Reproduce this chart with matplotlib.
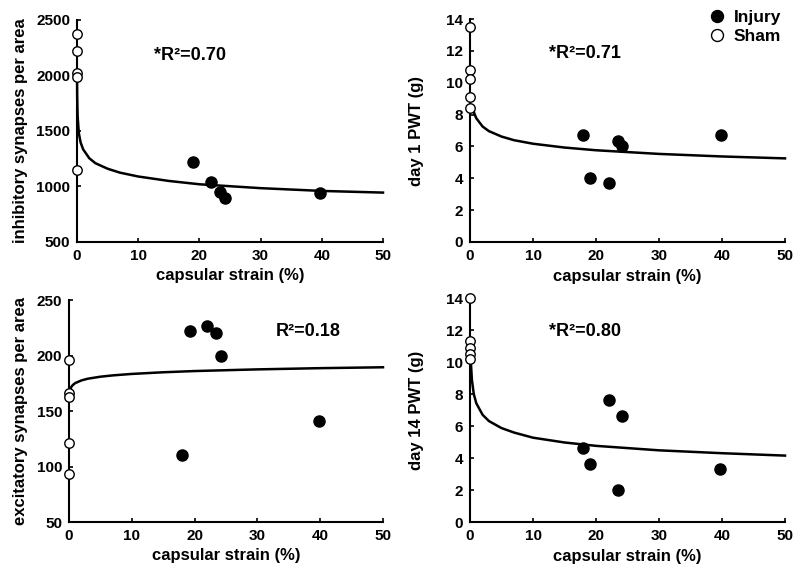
import matplotlib
matplotlib.use("Agg")
import matplotlib.pyplot as plt
from matplotlib.lines import Line2D

plt.rcParams['font.family'] = ['Liberation Sans', 'DejaVu Sans']
plt.rcParams['font.weight'] = 'bold'

# x ticks shared by all panels
strain_ticks = [0, 10, 20, 30, 40, 50]

# inhibitory synapses (top left)
inh_sham = [2375, 2225, 2025, 1990, 1150]
inh_inj_x = [19.0, 21.9, 23.4, 24.2, 39.7]
inh_inj_y = [1220, 1040, 950, 895, 940]
inh_fit_x = [0.01, 0.03, 0.1, 0.3, 0.6, 1, 2, 3, 5, 7, 10, 15, 20, 30, 40, 50]
inh_fit_y = [1995, 1815, 1635, 1480, 1395, 1335, 1255, 1210, 1160, 1125, 1090, 1050, 1020, 985, 960, 945]

# day 1 PWT (top right)
d1_sham = [13.5, 10.8, 10.25, 9.1, 8.4]
d1_inj_x = [18.0, 19.0, 22.0, 23.5, 24.2, 39.8]
d1_inj_y = [6.7, 4.0, 3.7, 6.35, 6.05, 6.7]
d1_fit_x = [0.4, 0.7, 1, 2, 3, 5, 7, 10, 15, 20, 30, 40, 50]
d1_fit_y = [8.5, 8.05, 7.77, 7.25, 6.96, 6.62, 6.39, 6.17, 5.93, 5.76, 5.53, 5.37, 5.25]

# excitatory synapses (bottom left)
exc_sham = [196, 166, 162.5, 121.5, 93]
exc_inj_x = [18.0, 19.2, 21.9, 23.4, 24.2, 39.8]
exc_inj_y = [110.6, 222, 227, 220, 200, 141]
exc_fit_x = [0.1, 0.3, 0.6, 1, 2, 3, 5, 7, 10, 15, 20, 30, 40, 50]
exc_fit_y = [167.3, 171.1, 173.4, 175.2, 177.6, 179.1, 180.9, 182.1, 183.4, 184.9, 186.0, 187.5, 188.6, 189.4]

# day 14 PWT (bottom right)
d14_sham = [14.0, 11.3, 10.85, 10.5, 10.2]
d14_inj_x = [18.0, 19.1, 22.0, 23.5, 24.2, 39.7]
d14_inj_y = [4.65, 3.65, 7.65, 2.0, 6.65, 3.3]
d14_fit_x = [0.13, 0.3, 0.6, 1, 2, 3, 5, 7, 10, 15, 20, 30, 40, 50]
d14_fit_y = [10.05, 8.88, 8.0, 7.42, 6.70, 6.31, 5.87, 5.59, 5.27, 4.97, 4.76, 4.48, 4.30, 4.15]


def draw_panel(rect, sham, inj_x, inj_y, fit_x, fit_y, ylim, yticks, ylabel, ylab_x, r2, r2_pos):
    ax = fig.add_axes(rect)
    ax.plot(fit_x, fit_y, color='black', lw=1.8, zorder=2, clip_on=False)
    ax.plot([0] * len(sham), sham, 'o', ms=6.8, mfc='white', mec='black', mew=1.0,
            zorder=4, clip_on=False)
    ax.plot(inj_x, inj_y, 'o', ms=8, mfc='black', mec='black', zorder=4, clip_on=False)

    ax.set_xlim(0, 50)
    ax.set_ylim(*ylim)
    ax.set_xticks(strain_ticks)
    ax.set_yticks(yticks)
    ax.spines['top'].set_visible(False)
    ax.spines['right'].set_visible(False)
    for s in ['left', 'bottom']:
        ax.spines[s].set_linewidth(1.5)
    ax.tick_params(direction='in', length=3, width=1.2, labelsize=11, pad=5)
    for lab in ax.get_xticklabels() + ax.get_yticklabels():
        lab.set_fontweight('bold')

    ax.set_xlabel("capsular strain (%)", fontsize=12, fontweight='bold')
    ax.xaxis.label.set_va('center')
    ax.xaxis.set_label_coords(0.5, -0.153)
    ax.set_ylabel(ylabel, fontsize=12, fontweight='bold')
    ax.yaxis.label.set_va('center')
    ax.yaxis.set_label_coords(ylab_x, 0.5)

    ax.text(r2_pos[0], r2_pos[1], r2, transform=fig.transFigure, fontsize=13,
            fontweight='bold', va='center', ha='left')
    return ax


fig = plt.figure(figsize=(8, 5.71), dpi=100)

draw_panel([0.09625, 0.5762, 0.3825, 0.3888], inh_sham, inh_inj_x, inh_inj_y,
           inh_fit_x, inh_fit_y, (500, 2500), [500, 1000, 1500, 2000, 2500],
           "inhibitory synapses per area", -0.185, "*R²=0.70", (154 / 800, 1 - 55 / 571))
draw_panel([0.5875, 0.5762, 0.39375, 0.3905], d1_sham, d1_inj_x, d1_inj_y,
           d1_fit_x, d1_fit_y, (0, 14), [0, 2, 4, 6, 8, 10, 12, 14],
           "day 1 PWT (g)", -0.17, "*R²=0.71", (549 / 800, 1 - 53 / 571))
draw_panel([0.08625, 0.0858, 0.3925, 0.3888], exc_sham, exc_inj_x, exc_inj_y,
           exc_fit_x, exc_fit_y, (50, 250), [50, 100, 150, 200, 250],
           "excitatory synapses per area", -0.155, "R²=0.18", (276 / 800, 1 - 331 / 571))
draw_panel([0.5875, 0.0858, 0.39375, 0.3923], d14_sham, d14_inj_x, d14_inj_y,
           d14_fit_x, d14_fit_y, (0, 14), [0, 2, 4, 6, 8, 10, 12, 14],
           "day 14 PWT (g)", -0.17, "*R²=0.80", (549 / 800, 1 - 331 / 571))

handles = [
    Line2D([], [], ls='none', marker='o', ms=8.6, mfc='black', mec='black'),
    Line2D([], [], ls='none', marker='o', ms=8.6, mfc='white', mec='black', mew=1.0),
]
fig.legend(handles, ["Injury", "Sham"], loc='upper left', bbox_to_anchor=(0.885, 0.983),
           frameon=False, handlelength=1.0, handletextpad=0.5, borderpad=0,
           borderaxespad=0, labelspacing=0.25, prop={'size': 12.5, 'weight': 'bold'})

fig.savefig("out.png", dpi=100)
